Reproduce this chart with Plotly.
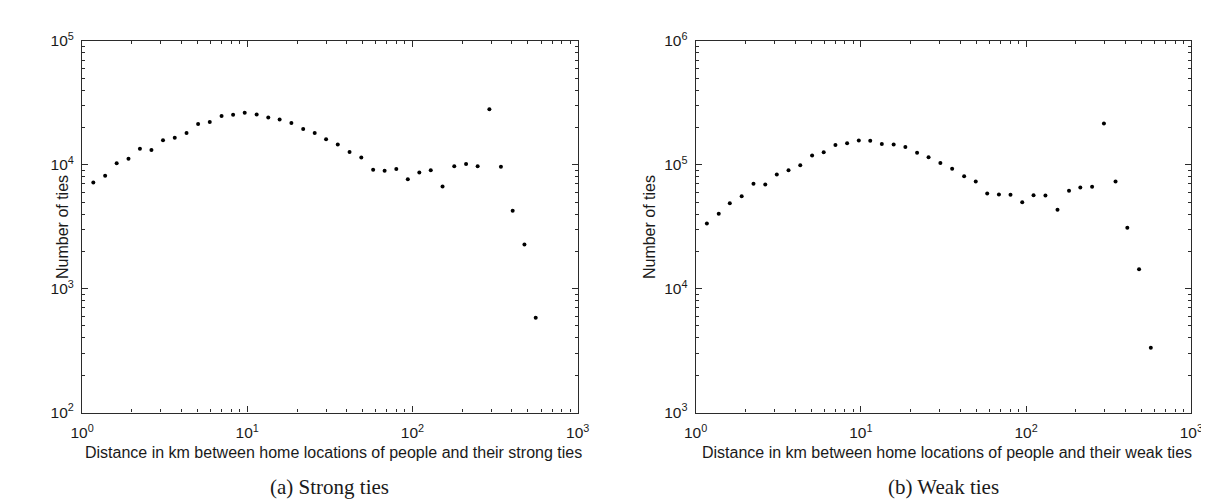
import plotly.graph_objects as go

# ---- data ----
strong_x = [1.17, 1.38, 1.62, 1.91, 2.24, 2.63, 3.09, 3.64, 4.29, 5.04, 5.93, 6.99, 8.21, 9.65,
            11.4, 13.4, 15.7, 18.5, 21.8, 25.6, 30.0, 35.3, 41.6, 49.0, 57.8, 67.8, 79.8, 93.7,
            110, 129, 152, 179, 211, 248, 292, 343, 404, 476, 557]
strong_y = [7180, 8140, 10280, 11170, 13440, 13130, 15790, 16480, 18030, 21300, 22080, 24720,
            25350, 26260, 25480, 24030, 23190, 21690, 19470, 18030, 16070, 14550, 12670, 11450,
            9130, 8960, 9230, 7630, 8650, 9020, 6680, 9730, 10160, 9730, 28000, 9630, 4250,
            2270, 581]

weak_x = [1.17, 1.38, 1.61, 1.90, 2.24, 2.64, 3.10, 3.65, 4.30, 5.07, 5.96, 7.02, 8.26, 9.72,
          11.4, 13.4, 15.8, 18.6, 21.9, 25.7, 30.3, 35.7, 42.2, 49.6, 58.2, 68.5, 80.5, 94.8,
          111, 131, 155, 182, 213, 251, 296, 348, 410, 483, 569]
weak_y = [33560, 40180, 48900, 55720, 70330, 69130, 83250, 90400, 98900, 119000, 125900,
          144200, 149400, 156800, 156000, 146800, 146000, 139200, 125000, 115000, 103300,
          92700, 80800, 73400, 58500, 57400, 57200, 49800, 56700, 56400, 43400, 61700, 65500,
          66300, 215400, 73400, 31000, 14360, 3340]

x_tickvals = [1, 10, 100, 1000]
x_ticktext = ["10<sup>0</sup>", "10<sup>1</sup>", "10<sup>2</sup>", "10<sup>3</sup>"]
y1_tickvals = [100, 1000, 10000, 100000]
y1_ticktext = ["10<sup>2</sup>", "10<sup>3</sup>", "10<sup>4</sup>", "10<sup>5</sup>"]
y2_tickvals = [1000, 10000, 100000, 1000000]
y2_ticktext = ["10<sup>3</sup>", "10<sup>4</sup>", "10<sup>5</sup>", "10<sup>6</sup>"]

x_title_a = "Distance in km between home locations of people and their strong ties"
x_title_b = "Distance in km between home locations of people and their weak ties"
y_title = "Number of ties"
caption_a = "(a) Strong ties"
caption_b = "(b) Weak ties"

W, H = 1209, 503
AX = "#2b2b2b"
TXT = "#1a1a1a"
SANS = "Liberation Sans, Arial, sans-serif"
SERIF = "Liberation Serif, Times New Roman, serif"


def minor_vals(lo_exp, hi_exp):
    vals = []
    for e in range(lo_exp, hi_exp):
        for m in range(2, 10):
            vals.append(m * 10 ** e)
    return vals


fig = go.Figure()
fig.add_trace(go.Scatter(x=strong_x, y=strong_y, mode="markers",
                         marker=dict(color="black", size=4), xaxis="x", yaxis="y",
                         showlegend=False))
fig.add_trace(go.Scatter(x=weak_x, y=weak_y, mode="markers",
                         marker=dict(color="black", size=4), xaxis="x2", yaxis="y2",
                         showlegend=False))

# pixel geometry of the two boxes
L1, R1 = 63.3, 569.0
L2, R2 = 689.3, 1195.0
TOP, BOT = 22.7, 409.0


def px_x(p):
    return p / W


def px_y(p):
    return 1 - p / H


common_axis = dict(
    type="log", showline=True, linecolor=AX, linewidth=1.2, mirror="allticks",
    ticks="inside", ticklen=6, tickwidth=1, tickcolor=AX, showgrid=False, zeroline=False,
    tickfont=dict(family=SANS, size=15.5, color=TXT),
)

xa = dict(common_axis, range=[0, 3], tickmode="array", tickvals=x_tickvals,
          ticktext=x_ticktext, ticklabelstandoff=6,
          minor=dict(ticks="inside", ticklen=3, tickcolor=AX, tickvals=minor_vals(0, 3),
                     showgrid=False))

fig.update_layout(
    width=W, height=H,
    margin=dict(l=0, r=0, t=0, b=0),
    paper_bgcolor="white", plot_bgcolor="white",
    xaxis=dict(xa, domain=[px_x(L1), px_x(R1)], anchor="y"),
    xaxis2=dict(xa, domain=[px_x(L2), px_x(R2)], anchor="y2"),
    yaxis=dict(common_axis, range=[2, 5], tickmode="array", tickvals=y1_tickvals,
               ticktext=y1_ticktext, domain=[px_y(BOT), px_y(TOP)], anchor="x",
               ticklabelstandoff=4,
               minor=dict(ticks="inside", ticklen=3, tickcolor=AX,
                          tickvals=minor_vals(2, 5), showgrid=False)),
    yaxis2=dict(common_axis, range=[3, 6], tickmode="array", tickvals=y2_tickvals,
                ticktext=y2_ticktext, domain=[px_y(BOT), px_y(TOP)], anchor="x2",
                ticklabelstandoff=4,
                minor=dict(ticks="inside", ticklen=3, tickcolor=AX,
                           tickvals=minor_vals(3, 6), showgrid=False)),
)

ann = []
# x titles
for txt, cx in ((x_title_a, (L1 + R1) / 2 + 4), (x_title_b, (L2 + R2) / 2 + 4)):
    ann.append(dict(text=txt, x=px_x(cx), y=px_y(450), xref="paper", yref="paper",
                    showarrow=False, font=dict(family=SANS, size=16, color=TXT),
                    xanchor="center", yanchor="middle"))
# y titles
for cx in (44, 643):
    ann.append(dict(text=y_title, x=px_x(cx), y=px_y(216), xref="paper", yref="paper",
                    showarrow=False, textangle=-90, font=dict(family=SANS, size=16, color=TXT),
                    xanchor="center", yanchor="middle"))
# captions
for txt, cx in ((caption_a, (L1 + R1) / 2), (caption_b, (L2 + R2) / 2)):
    ann.append(dict(text=txt, x=px_x(cx), y=px_y(486), xref="paper", yref="paper",
                    showarrow=False, font=dict(family=SERIF, size=21, color=TXT),
                    xanchor="center", yanchor="middle"))
fig.update_layout(annotations=ann)

fig.write_html("out.html")
